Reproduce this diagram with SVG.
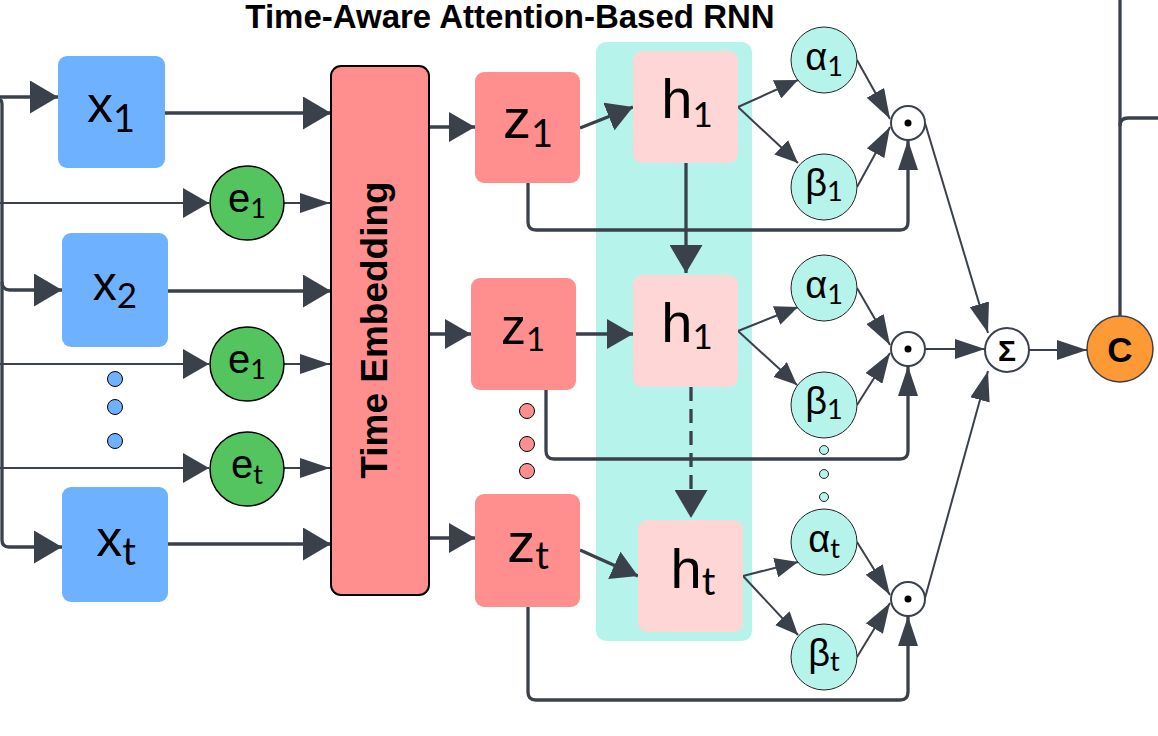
<svg xmlns="http://www.w3.org/2000/svg" width="1158" height="736" viewBox="0 0 1158 736">
<defs>
<style>
.c{fill:none;stroke:#3a414b;stroke-linejoin:round}
.tk{stroke-width:3.3}
.tn{stroke-width:2}
.lbl{font-family:"Liberation Sans",Arial,sans-serif;fill:#000;text-anchor:middle}
.sub{font-family:Lato,"Liberation Sans",sans-serif}
.xb{fill:#6eb1ff}
.zb{fill:#ff8f8f}
.hb{fill:#ffd6d6}
.ec{fill:#54c45e;stroke:#000;stroke-width:1.5}
.ab{fill:#b5f3eb;stroke:#222;stroke-width:1}
.op{fill:#fff;stroke:#3a414b;stroke-width:2}
</style>
<marker id="mBig" markerUnits="userSpaceOnUse" markerWidth="28" markerHeight="33" refX="28" refY="16.5" orient="auto"><path d="M0,0 L28,16.5 L0,33 z" fill="#3a414b"/></marker>
<marker id="mMed" markerUnits="userSpaceOnUse" markerWidth="26" markerHeight="30" refX="26" refY="15" orient="auto"><path d="M0,0 L26,15 L0,30 z" fill="#3a414b"/></marker>
<marker id="mSlim" markerUnits="userSpaceOnUse" markerWidth="30" markerHeight="20" refX="30" refY="10" orient="auto"><path d="M0,0 L30,10 L0,20 z" fill="#3a414b"/></marker>
<marker id="mSmall" markerUnits="userSpaceOnUse" markerWidth="23" markerHeight="20" refX="23" refY="10" orient="auto"><path d="M0,0 L23,10 L0,20 z" fill="#3a414b"/></marker>
</defs>
<rect width="1158" height="736" fill="#fff"/>

<text x="510" y="28" font-family="Liberation Sans,Arial,sans-serif" font-weight="bold" font-size="33" text-anchor="middle" fill="#000">Time-Aware Attention-Based RNN</text>

<g id="rnn-band"><rect x="596" y="42" width="156" height="599" rx="10" fill="#b5f3eb"/></g>

<g id="connectors">
<path class="c tk" d="M0,97 L58,97" marker-end="url(#mBig)"/>
<path class="c tk" d="M0,100 Q2,100 2,105 L2,540 Q2,547 9,547 L62,547" marker-end="url(#mBig)"/>
<path class="c tk" d="M2,282 Q2,290 10,290 L62,290" marker-end="url(#mBig)"/>
<path class="c tn" d="M0,203 L209,203" marker-end="url(#mMed)"/>
<path class="c tn" d="M0,364 L209,364" marker-end="url(#mMed)"/>
<path class="c tn" d="M0,468 L209,468" marker-end="url(#mMed)"/>
<path class="c tk" d="M165,113 L331,113" marker-end="url(#mBig)"/>
<path class="c tk" d="M168,291 L331,291" marker-end="url(#mBig)"/>
<path class="c tk" d="M168,544 L331,544" marker-end="url(#mBig)"/>
<path class="c tn" d="M284,203 L330,203" marker-end="url(#mSlim)"/>
<path class="c tn" d="M284,364 L330,364" marker-end="url(#mSlim)"/>
<path class="c tn" d="M284,468 L330,468" marker-end="url(#mSlim)"/>
<path class="c tk" d="M429,127 L475,127" marker-end="url(#mMed)"/>
<path class="c tk" d="M429,334 L471,334" marker-end="url(#mMed)"/>
<path class="c tk" d="M429,538 L475,538" marker-end="url(#mMed)"/>
<path class="c tk" d="M580,128 L633,107" marker-end="url(#mMed)"/>
<path class="c tk" d="M576,334 L633,334" marker-end="url(#mMed)"/>
<path class="c tk" d="M580,550 L638,576" marker-end="url(#mMed)"/>
<path class="c tk" d="M686,163 L686,273" marker-end="url(#mBig)"/>
<path class="c tk" d="M691,387 L691,518" stroke-dasharray="14,8" marker-end="url(#mBig)"/>
<path class="c tk" d="M528,183 L528,222 Q528,230 536,230 L900,230 Q908,230 908,222 L908,140" marker-end="url(#mSlim)"/>
<path class="c tk" d="M546,390 L546,451 Q546,459 554,459 L900,459 Q908,459 908,451 L908,366" marker-end="url(#mSlim)"/>
<path class="c tk" d="M528,607 L528,692 Q528,700 536,700 L900,700 Q908,700 908,692 L908,616" marker-end="url(#mSlim)"/>
<path class="c tn" d="M738,107 L798,80" marker-end="url(#mSmall)"/>
<path class="c tn" d="M738,107 L798,163" marker-end="url(#mSmall)"/>
<path class="c tn" d="M738,331 L798,307" marker-end="url(#mSmall)"/>
<path class="c tn" d="M738,331 L797,385" marker-end="url(#mSmall)"/>
<path class="c tn" d="M743,576 L798,562" marker-end="url(#mSmall)"/>
<path class="c tn" d="M743,576 L798,635" marker-end="url(#mSmall)"/>
<path class="c tn" d="M857,60 L890,119" marker-end="url(#mSlim)"/>
<path class="c tn" d="M857,187 L890,127" marker-end="url(#mSlim)"/>
<path class="c tn" d="M857,288 L890,345" marker-end="url(#mSlim)"/>
<path class="c tn" d="M857,405 L890,353" marker-end="url(#mSlim)"/>
<path class="c tn" d="M857,542 L890,595" marker-end="url(#mSlim)"/>
<path class="c tn" d="M857,657 L890,603" marker-end="url(#mSlim)"/>
<path class="c tn" d="M925,123 L988,333" marker-end="url(#mSlim)"/>
<path class="c tn" d="M925,349 L985,349" marker-end="url(#mSlim)"/>
<path class="c tn" d="M925,598 L988,371" marker-end="url(#mSlim)"/>
<path class="c tn" d="M1029,350 L1087,350" marker-end="url(#mSlim)"/>
<path class="c tk" d="M1120,316 L1120,0"/>
<path class="c tk" d="M1120,126 Q1120,118 1128,118 L1158,118"/>
</g>

<g id="x1"><rect class="xb" x="58" y="56" width="107" height="112" rx="9"/><text class="lbl" x="111" y="122" font-size="52">x<tspan class="sub" font-size="38" dy="10">1</tspan></text></g>
<g id="x2"><rect class="xb" x="62" y="233" width="106" height="114" rx="9"/><text class="lbl" x="115" y="300" font-size="48">x<tspan class="sub" font-size="35" dy="8">2</tspan></text></g>
<g id="xt"><rect class="xb" x="62" y="487" width="106" height="115" rx="9"/><text class="lbl" x="116" y="556" font-size="52">x<tspan class="sub" font-size="38" dy="9">t</tspan></text></g>

<g id="dots-x"><circle cx="115" cy="379" r="7.5" fill="#6eb1ff" stroke="#000" stroke-width="1"/><circle cx="115" cy="407" r="7.5" fill="#6eb1ff" stroke="#000" stroke-width="1"/><circle cx="115" cy="441" r="7.5" fill="#6eb1ff" stroke="#000" stroke-width="1"/></g>

<g id="e1"><circle class="ec" cx="247" cy="203" r="37"/><text class="lbl" x="247" y="212" font-size="40">e<tspan class="sub" font-size="27" dy="6">1</tspan></text></g>
<g id="e1b"><circle class="ec" cx="247" cy="364" r="37"/><text class="lbl" x="247" y="373" font-size="40">e<tspan class="sub" font-size="27" dy="6">1</tspan></text></g>
<g id="et"><circle class="ec" cx="247" cy="469" r="37"/><text class="lbl" x="247" y="478" font-size="40">e<tspan class="sub" font-size="27" dy="6">t</tspan></text></g>

<g id="time-embedding"><rect x="331" y="66" width="98" height="529" rx="10" fill="#ff8f8f" stroke="#000" stroke-width="2"/><text transform="translate(387,330) rotate(-90)" font-family="Liberation Sans,Arial,sans-serif" font-weight="bold" font-size="37" text-anchor="middle" fill="#000">Time Embedding</text></g>

<g id="z1"><rect class="zb" x="475" y="72" width="105" height="111" rx="9"/><text class="lbl" x="528" y="138" font-size="56">z<tspan class="sub" font-size="38" dy="9">1</tspan></text></g>
<g id="z1b"><rect class="zb" x="471" y="278" width="105" height="112" rx="9"/><text class="lbl" x="523" y="344" font-size="50">z<tspan class="sub" font-size="33" dy="7">1</tspan></text></g>
<g id="zt"><rect class="zb" x="475" y="494" width="105" height="113" rx="9"/><text class="lbl" x="528" y="562" font-size="56">z<tspan class="sub" font-size="38" dy="7">t</tspan></text></g>

<g id="dots-z"><circle cx="527" cy="411" r="7.5" fill="#ff8f8f" stroke="#000" stroke-width="1"/><circle cx="527" cy="444" r="7.5" fill="#ff8f8f" stroke="#000" stroke-width="1"/><circle cx="527" cy="471" r="7.5" fill="#ff8f8f" stroke="#000" stroke-width="1"/></g>

<g id="h1"><rect class="hb" x="633" y="51" width="105" height="112" rx="9"/><text class="lbl" x="687" y="118" font-size="56">h<tspan class="sub" font-size="35" dy="9">1</tspan></text></g>
<g id="h1b"><rect class="hb" x="633" y="275" width="105" height="112" rx="9"/><text class="lbl" x="687" y="342" font-size="56">h<tspan class="sub" font-size="35" dy="7">1</tspan></text></g>
<g id="ht"><rect class="hb" x="638" y="520" width="105" height="112" rx="9"/><text class="lbl" x="693" y="588" font-size="56">h<tspan class="sub" font-size="38" dy="7">t</tspan></text></g>

<g id="alpha1"><circle class="ab" cx="824" cy="60" r="33"/><text class="lbl" x="824" y="70" font-size="38">α<tspan class="sub" font-size="27" dy="6">1</tspan></text></g>
<g id="beta1"><circle class="ab" cx="824" cy="187" r="33"/><text class="lbl" x="824" y="196" font-size="38">β<tspan class="sub" font-size="27" dy="5">1</tspan></text></g>
<g id="alpha1b"><circle class="ab" cx="824" cy="288" r="33"/><text class="lbl" x="824" y="298" font-size="38">α<tspan class="sub" font-size="27" dy="6">1</tspan></text></g>
<g id="beta1b"><circle class="ab" cx="824" cy="405" r="33"/><text class="lbl" x="824" y="414" font-size="38">β<tspan class="sub" font-size="27" dy="5">1</tspan></text></g>
<g id="alphat"><circle class="ab" cx="824" cy="542" r="33"/><text class="lbl" x="824" y="552" font-size="38">α<tspan class="sub" font-size="27" dy="6">t</tspan></text></g>
<g id="betat"><circle class="ab" cx="824" cy="657" r="33"/><text class="lbl" x="824" y="666" font-size="38">β<tspan class="sub" font-size="27" dy="5">t</tspan></text></g>

<g id="dots-ab"><circle cx="824" cy="450" r="4.5" fill="#b5f3eb" stroke="#222" stroke-width="1"/><circle cx="824" cy="474" r="4.5" fill="#b5f3eb" stroke="#222" stroke-width="1"/><circle cx="824" cy="497" r="4.5" fill="#b5f3eb" stroke="#222" stroke-width="1"/></g>

<g id="prod1"><circle class="op" cx="908" cy="123" r="17"/><circle cx="908" cy="123" r="3.5" fill="#000"/></g>
<g id="prod2"><circle class="op" cx="908" cy="349" r="17"/><circle cx="908" cy="349" r="3.5" fill="#000"/></g>
<g id="prod3"><circle class="op" cx="908" cy="599" r="17"/><circle cx="908" cy="599" r="3.5" fill="#000"/></g>

<g id="sum"><circle class="op" cx="1007" cy="350" r="22"/><text x="1007" y="361" font-family="Liberation Sans,Arial,sans-serif" font-weight="bold" font-size="30" text-anchor="middle" fill="#000">Σ</text></g>

<g id="context"><circle cx="1120" cy="349" r="33" fill="#fd9a36" stroke="#3a414b" stroke-width="1.5"/><text x="1120" y="362" font-family="Liberation Sans,Arial,sans-serif" font-weight="bold" font-size="35" text-anchor="middle" fill="#000">C</text></g>
</svg>
